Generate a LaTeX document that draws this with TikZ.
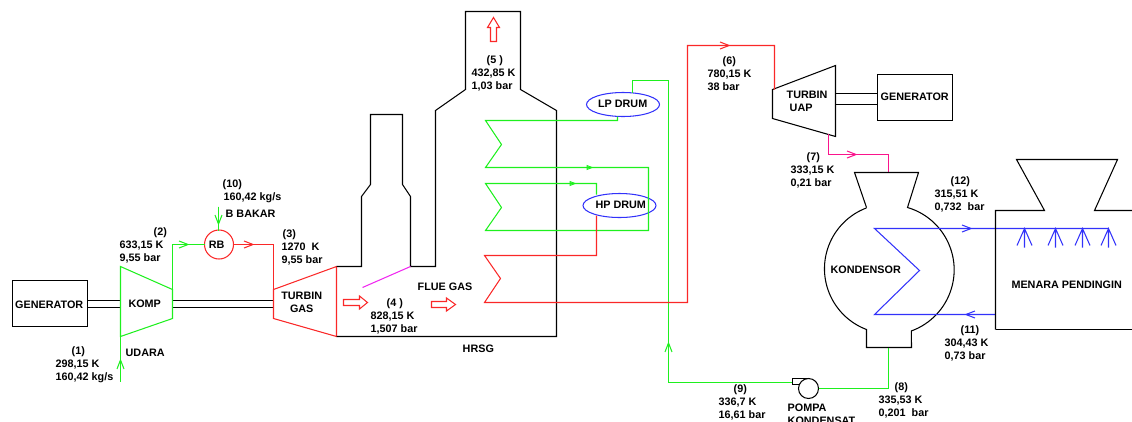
\documentclass[tikz,border=0pt]{standalone}
\usepackage{fontspec}
\setmainfont{Liberation Sans}
\usetikzlibrary{arrows.meta,shapes.geometric}
\definecolor{gr}{RGB}{30,240,30}
\definecolor{rd}{RGB}{250,40,40}
\definecolor{bl}{RGB}{50,50,250}
\definecolor{mg}{RGB}{240,40,240}
\definecolor{pk}{RGB}{250,20,140}
\tikzset{
  lbl/.style={inner sep=0pt,outer sep=0pt,xshift=-0.8pt,yshift=-0.8pt,font=\fontsize{10.8}{13}\selectfont\bfseries},
  note/.style={lbl,anchor=west,align=left},
  ctr/.style={lbl,align=center},
  pipe/.style={line width=1.05pt,line join=miter},
  barb/.style={pipe,-{Straight Barb[length=9pt,width=7pt]}},
  tri/.style={pipe,-{Triangle[open,length=7pt,width=5pt]}},
  box/.style={draw=black,line width=1.05pt,inner sep=0pt,outer sep=0pt,minimum width=75pt,minimum height=46pt},
  drum/.style={draw=bl,ellipse,line width=1.05pt,inner sep=0pt,outer sep=0pt,minimum width=73pt,minimum height=24pt},
  ring/.style={circle,line width=1.05pt,inner sep=0pt,outer sep=0pt},
  block/.style={draw=rd,line width=1.05pt,line join=miter},
}
\begin{document}
\begin{tikzpicture}[x=1pt,y=-1pt]
\useasboundingbox (-0.5,-0.5) rectangle (1131.5,420.5);

% named ports
\coordinate (kin) at (120,336);
\coordinate (kintop) at (120,266);
\coordinate (kout) at (172,289);
\coordinate (koutb) at (172,318);
\coordinate (tin) at (273,289);
\coordinate (tinb) at (273,318);
\coordinate (ttop) at (336,266);
\coordinate (tbot) at (336,336);
\coordinate (airin) at (120,381);
\coordinate (fuel) at (218,206);
\coordinate (uin) at (772,89);
\coordinate (utop) at (835,65);
\coordinate (ubot) at (835,136);
\coordinate (ulow) at (772,118);
\coordinate (uex) at (828,133);
\coordinate (cin) at (888,172);
\coordinate (cout) at (888,347);

% equipment nodes
\node[box] (gen1) at (49.5,303) {};
\node[box] (gen2) at (914.5,97) {};
\node[ring,draw=rd,minimum size=29pt] (rb) at (218.5,244) {};
\node[drum] (lp) at (622.5,104) {};
\node[drum] (hp) at (619,205) {};
\node[ring,draw=black,minimum size=20pt] (pump) at (808,388) {};

% shafts
\draw[pipe] (87,300) -- (120,300) (87,307) -- (120,307);
\draw[pipe] (172,300) -- (273,300) (172,307) -- (273,307);
\draw[pipe] (835,93) -- (877,93) (835,104) -- (877,104);

% compressor and turbines
\draw[pipe,draw=gr] (kintop) -- (kout) -- (koutb) -- (kin) -- cycle;
\draw[pipe,draw=rd] (tin) -- (ttop) -- (tbot) -- (tinb) -- cycle;
\draw[pipe] (uin) -- (utop) -- (ubot) -- (ulow) -- cycle;

% HRSG casing
\draw[pipe] (336,266) -- (361,266) -- (361,196) -- (370,184) -- (370,114) -- (402,114)
  -- (402,184) -- (410,196) -- (410,266) -- (435,266) -- (435,110) -- (465,89) -- (465,11)
  -- (520,11) -- (520,89) -- (556,110) -- (556,336) -- (336,336);
\draw[pipe,draw=mg] (410,266) -- (362,287);

% gas-side block arrows
\draw[block] (490,41) -- (490,27) -- (487,27) -- (493,17) -- (499,27) -- (496,27) -- (496,41) -- cycle;
\draw[block] (343,299) -- (359,299) -- (359,295.5) -- (367,302) -- (359,308.5) -- (359,305) -- (343,305) -- cycle;
\draw[block] (431,301) -- (446,301) -- (446,297.5) -- (455,304) -- (446,310.5) -- (446,307) -- (431,307) -- cycle;

% air side
\draw[pipe,draw=gr] (airin) -- (kin);
\draw[barb,draw=gr] (airin) -- (120,358);
\draw[pipe,draw=gr] (kout) |- (rb.west);
\draw[barb,draw=gr] (172,244) -- (189,244);
\draw[pipe,draw=gr] (fuel) -- (218,230);
\draw[barb,draw=gr] (fuel) -- (218,225);
\draw[pipe,draw=rd] (rb.east) -| (tin);
\draw[barb,draw=rd] (rb.east) -- (254,244);

% HRSG water side
\draw[pipe,draw=gr] (617,116) |- (485,120) -- (501,144) -- (485,167) -| (648,230)
  -- (485,230) -- (501,207) -- (485,183) -| (596,194);
\draw[tri,draw=gr] (580,167) -- (593,167);
\draw[tri,draw=gr] (563,183) -- (576,183);
\draw[pipe,draw=gr] (632,92) -- (632,80) -- (668,80) -- (668,382) -- (792,382);
\draw[barb,draw=gr] (668,382) -- (668,341);
\draw[pipe,draw=rd] (596,215) |- (484,255) -- (500,278) -- (484,302) -| (687,45) -- (774,45) -- (774,89);
\draw[barb,draw=rd] (687,45) -- (730,45);

% steam exhaust
\draw[pipe,draw=pk] (uex) -- (828,154) -- (888,154) -- (cin);
\draw[barb,draw=pk] (828,154) -- (857,154);

% condenser
\draw[pipe] (866,207) -- (854,172) -- (918,172) -- (907,207)
  arc[start angle=-73.6,end angle=70,radius=65] -- (911,347) -- (866,347) -- (866,329)
  arc[start angle=110.7,end angle=249.3,radius=65];

% cooling water
\draw[pipe,draw=bl] (1108,228) -- (874,228) -- (919,270) -- (874,314) -- (995,314);
\draw[barb,draw=bl] (874,228) -- (972,228);
\draw[barb,draw=bl] (995,314) -- (964,314);

% cooling tower
\draw[pipe] (995,329) -- (995,210) -- (1044,210) -- (1016,159) -- (1117,159) -- (1094,210) -- (1132,210);
\draw[pipe] (995,329) -- (1132,329);
\foreach \s in {1024,1055,1082,1108}{
  \draw[pipe,draw=bl] (\s,228) -- (\s,247) (\s-7.5,245) -- (\s,228) -- (\s+7.5,245);
}

% pump
\draw[pipe] (806,378) -- (792,378) -- (792,384) -- (799.5,384);
\draw[pipe,draw=gr] (pump.east) -- (888,388) -- (cout);

% text
\node[ctr] at (gen1) {GENERATOR};
\node[ctr] at (915,95) {GENERATOR};
\node[ctr] at (145,302) {KOMP};
\node[ctr] at (217,243) {RB};
\node[ctr] at (302,301.5) {TURBIN\\GAS};
\node[ctr] at (623,103) {LP DRUM};
\node[ctr] at (621,204) {HP DRUM};
\node[ctr] at (866,268) {KONDENSOR};
\node[ctr] at (1067,283) {MENARA PENDINGIN};
\node[note] at (787,100.5) {TURBIN\\\hspace*{3pt}UAP};
\node[note] at (126,352) {UDARA};
\node[note] at (226,212) {B BAKAR};
\node[note] at (418,285) {FLUE GAS};
\node[note] at (463,347) {HRSG};
\node[note] at (788,413) {POMPA\\KONDENSAT};
\node[note] at (56,363) {\hspace*{16pt}(1)\\298,15 K\\160,42 kg/s};
\node[note] at (120,244.5) {\hspace*{34pt}(2)\\633,15 K\\9,55 bar};
\node[note] at (282,246) {\hspace*{1pt}(3)\\1270 \ K\\9,55 bar};
\node[note] at (371,315.5) {\hspace*{16pt}(4 )\\828,15 K\\1,507 bar};
\node[note] at (472,72) {\hspace*{15pt}(5 )\\432,85 K\\1,03 bar};
\node[note] at (708,72) {\hspace*{15pt}(6)\\780,15 K\\38 bar};
\node[note] at (791,169.5) {\hspace*{16pt}(7)\\333,15 K\\0,21 bar};
\node[note] at (879,399.5) {\hspace*{16pt}(8)\\335,53 K\\0,201 \ bar};
\node[note] at (719,401) {\hspace*{15pt}(9)\\336,7 K\\16,61 bar};
\node[note] at (223,189.5) {(10)\\\hspace*{1pt}160,42 kg/s};
\node[note] at (945,342) {\hspace*{16pt}(11)\\304,43 K\\0,73 bar};
\node[note] at (935,193.5) {\hspace*{16pt}(12)\\315,51 K\\0,732 \ bar};
\end{tikzpicture}
\end{document}
